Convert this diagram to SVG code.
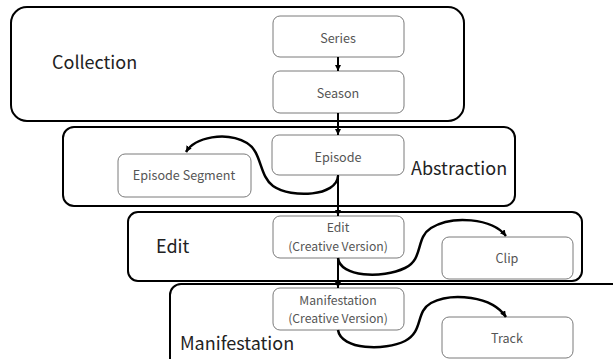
<svg xmlns="http://www.w3.org/2000/svg" width="613" height="359" viewBox="0 0 613 359">
  <style>
    .layer { fill: #ffffff; stroke: #000000; stroke-width: 2; }
    .layer-label { font-family: "Noto Sans CJK JP", "Noto Sans", sans-serif; font-size: 18px; fill: #222222; }
    .item { fill: #ffffff; stroke: #7a7a7a; stroke-width: 1; }
    .item-label { font-family: "Noto Sans CJK JP", "Noto Sans", sans-serif; font-size: 12.6px; fill: #555555; text-anchor: middle; dominant-baseline: central; }
    .item-label.two { font-size: 12.2px; }
    .link { fill: none; stroke: #000000; stroke-width: 2; marker-end: url(#head); }
    .flow { fill: none; stroke: #000000; stroke-width: 2.5; marker-end: url(#head); }
  </style>
  <defs>
    <marker id="head" viewBox="0 0 10 10" refX="10" refY="5" markerWidth="6" markerHeight="6" markerUnits="userSpaceOnUse" orient="auto">
      <path d="M0,0 L10,5 L0,10 z" fill="#000000"/>
    </marker>
  </defs>

  <rect width="613" height="359" fill="#ffffff"/>

  <!-- layers -->
  <g id="collection">
    <rect class="layer" x="11" y="7" width="453" height="114" rx="16"/>
    <text class="layer-label" x="52" y="69">Collection</text>
  </g>
  <g id="abstraction">
    <rect class="layer" x="63" y="127" width="452" height="79" rx="11"/>
    <text class="layer-label" x="411" y="175" font-size="18.5">Abstraction</text>
  </g>
  <g id="edit-layer">
    <rect class="layer" x="128" y="212" width="454" height="69" rx="10"/>
    <text class="layer-label" x="156" y="253">Edit</text>
  </g>
  <g id="manifestation-layer">
    <rect class="layer" x="170" y="284" width="460" height="90" rx="11"/>
    <text class="layer-label" x="180" y="350" font-size="19.5">Manifestation</text>
  </g>

  <!-- items -->
  <g id="series">
    <rect class="item" x="273" y="16" width="131" height="41" rx="7"/>
    <text class="item-label" x="338" y="37">Series</text>
  </g>
  <g id="season">
    <rect class="item" x="273" y="71" width="131" height="42" rx="7"/>
    <text class="item-label" x="338" y="92">Season</text>
  </g>
  <g id="episode">
    <rect class="item" x="272" y="135" width="132" height="40" rx="7"/>
    <text class="item-label" x="338" y="156">Episode</text>
  </g>
  <g id="episode-segment">
    <rect class="item" x="118" y="154" width="133" height="43" rx="7"/>
    <text class="item-label" x="184" y="174">Episode Segment</text>
  </g>
  <g id="edit">
    <rect class="item" x="273" y="216" width="131" height="42" rx="7"/>
    <text class="item-label two" x="338" y="227">Edit</text>
    <text class="item-label two" x="338" y="245.5">(Creative Version)</text>
  </g>
  <g id="clip">
    <rect class="item" x="442" y="237" width="131" height="42" rx="7"/>
    <text class="item-label" x="507" y="257">Clip</text>
  </g>
  <g id="manifestation">
    <rect class="item" x="273" y="288" width="131" height="42" rx="7"/>
    <text class="item-label two" x="338" y="299.5">Manifestation</text>
    <text class="item-label two" x="338" y="318">(Creative Version)</text>
  </g>
  <g id="track">
    <rect class="item" x="442" y="317" width="131" height="41" rx="7"/>
    <text class="item-label" x="507" y="337">Track</text>
  </g>

  <!-- connectors -->
  <g id="connectors">
    <path class="link" d="M338,57 L338,71"/>
    <path class="link" d="M338,113 L338,135"/>
    <path class="link" d="M338,175 L338,216"/>
    <path class="link" d="M338,258 L338,288"/>
    <path class="flow" d="M338,176 C337,196 292,199 273,186 C259,176 262,152 247,143 C226,131 195,137 186,152"/>
    <path class="flow" d="M338,258 C340,277 382,279 405,268 C424,259 415,238 431,228 C452,215 492,218 506,236"/>
    <path class="flow" d="M338,330 C341,350 385,351 405,341 C424,331 415,312 431,303 C452,292 492,296 506,317"/>
  </g>
</svg>
